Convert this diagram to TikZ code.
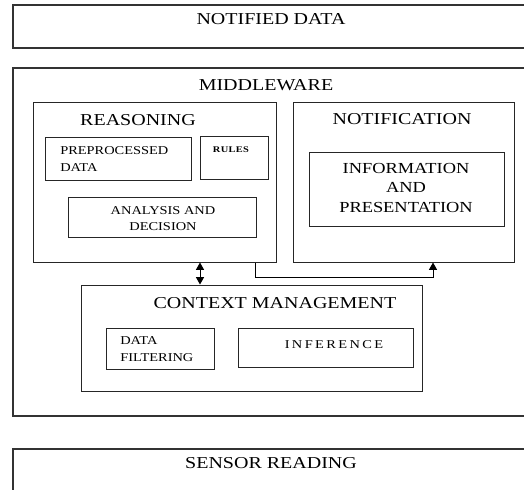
\documentclass[tikz,border=0pt]{standalone}
\usepackage{fontspec}
\setmainfont{Liberation Serif}[FakeStretch=1.2]
\usetikzlibrary{fit,arrows.meta}

\tikzset{
  px/.style={x=0.75pt,y=-0.75pt},
  outerbox/.style={draw=black!80,line width=1.1pt,inner sep=0pt},
  innerbox/.style={draw=black!85,line width=0.75pt,inner sep=0pt},
  bigtxt/.style={inner sep=0pt,font=\fontsize{12.5}{15}\selectfont},
  midtxt/.style={inner sep=0pt,font=\fontsize{9}{12.75}\selectfont},
  link/.style={draw=black,line width=0.75pt},
  tip/.style={-{Triangle[length=5.5pt,width=6pt]}},
  dbltip/.style={{Triangle[length=5.5pt,width=6pt]}-{Triangle[length=5.5pt,width=6pt]}},
}

\begin{document}
\begin{tikzpicture}[px]
\clip (0,0) rectangle (524,489);
\fill[white] (0,0) rectangle (524,489);

% outer layers (run past the right edge)
\node[outerbox,fit={(13,5) (540,48)}] (notified) {};
\node[bigtxt,anchor=base] (notifiedlbl) at (271,24) {NOTIFIED DATA};

\node[outerbox,fit={(13,68) (540,416)}] (middleware) {};
\node[bigtxt,anchor=base] (middlewarelbl) at (266,90) {MIDDLEWARE};

\node[outerbox,fit={(13,449) (540,500)}] (sensor) {};
\node[bigtxt,anchor=base] (sensorlbl) at (271,468) {SENSOR READING};

% reasoning block
\node[innerbox,fit={(33,102) (276,262)}] (reasoning) {};
\node[bigtxt,anchor=base] (reasoninglbl) at (138,125) {REASONING};

\node[innerbox,fit={(45,137) (191,180)}] (preproc) {};
\node[midtxt,anchor=north west,align=left] (preproclbl) at (60,146) {PREPROCESSED\\DATA};

\node[innerbox,fit={(200,136) (268,179)}] (rules) {};
\node[inner sep=0pt,anchor=base,font=\fontsize{6.5}{7}\selectfont\bfseries\addfontfeature{LetterSpace=4}] (ruleslbl) at (231,152) {RULES};

\node[innerbox,fit={(68,197) (256,237)}] (analysis) {};
\node[midtxt,anchor=north,align=center,font=\fontsize{9}{12}\selectfont] (analysislbl) at (163,206) {ANALYSIS AND\\DECISION};

% notification block
\node[innerbox,fit={(293,102) (514,262)}] (notif) {};
\node[bigtxt,anchor=base] (notiflbl) at (402,124) {NOTIFICATION};

\node[innerbox,fit={(309,152) (504,226)}] (info) {};
\node[inner sep=0pt,anchor=north,align=center,font=\fontsize{11.5}{14.6}\selectfont] (infolbl) at (406,163) {INFORMATION\\AND\\PRESENTATION};

% context management block
\node[innerbox,fit={(81,285) (422,391)}] (context) {};
\node[bigtxt,anchor=base] (contextlbl) at (275,308) {CONTEXT MANAGEMENT};

\node[innerbox,fit={(106,328) (214,369)}] (filter) {};
\node[midtxt,anchor=north west,align=left] (filterlbl) at (120,336) {DATA\\FILTERING};

\node[innerbox,fit={(238,328) (413,367)}] (inference) {};
\node[inner sep=0pt,anchor=base,font=\fontsize{9}{11}\selectfont\addfontfeature{LetterSpace=20}] (inferencelbl) at (334,348) {INFERENCE};

% connectors
\coordinate (dx) at (200,0);
\coordinate (ex) at (255,0);
\coordinate (ecorner) at (433,277);
\draw[link,dbltip] (reasoning.south -| dx) -- (context.north -| dx);
\draw[link,tip] (reasoning.south -| ex) |- (ecorner) -- (notif.south -| ecorner);
\end{tikzpicture}
\end{document}
